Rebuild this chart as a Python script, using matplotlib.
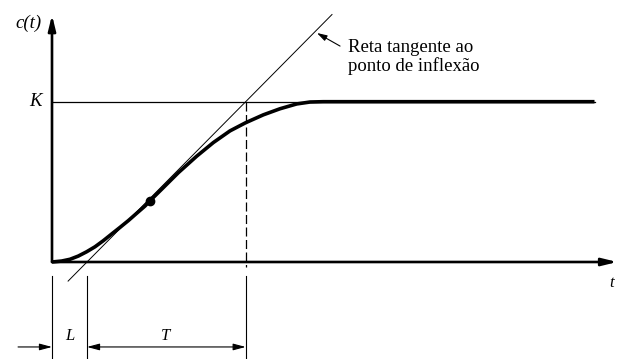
import matplotlib
matplotlib.use("Agg")
import matplotlib.pyplot as plt

plt.rcParams['lines.scale_dashes'] = False

# ---- data ----
K = 1.0          # final value
L = 1.0          # delay
T = 4.534        # time constant
t_end = 15.5     # end of the drawn response
curve_t = [0.0, 0.277, 0.514, 0.751, 0.991, 1.229, 1.466, 1.706, 1.943, 2.18,
           2.42, 2.657, 2.8, 3.134, 3.609, 4.134, 4.609, 5.086, 5.534, 6.037,
           6.514, 6.991, 7.371, 7.751, 15.5]
curve_c = [0.0, 0.006, 0.017, 0.037, 0.064, 0.095, 0.133, 0.175, 0.216, 0.258,
           0.304, 0.349, 0.382, 0.454, 0.557, 0.660, 0.745, 0.818, 0.869, 0.918,
           0.956, 0.986, 0.998, 1.0, 1.0]
inflection_t = 2.8
inflection_c = 0.382
tangent_range = [0.46, 8.0]
annotation_text = "Reta tangente ao\nponto de inflexão"

fig = plt.figure(figsize=(6.19, 3.59), dpi=100)
ax = fig.add_axes([0, 0, 1, 1])
ax.set_xlim(-52 / 35, 567 / 35)
ax.set_ylim(-97 / 160.3, 262 / 160.3)
ax.axis('off')

serif = ['Liberation Serif', 'DejaVu Serif']

# axes with arrows
ax.annotate('', xy=(0, 1.541), xytext=(0, 0),
            arrowprops=dict(arrowstyle='-|>,head_length=0.9,head_width=0.22',
                            lw=1.9, color='black', shrinkA=0, shrinkB=0))
ax.annotate('', xy=(16.15, 0), xytext=(0, 0),
            arrowprops=dict(arrowstyle='-|>,head_length=0.9,head_width=0.22',
                            lw=1.9, color='black', shrinkA=0, shrinkB=0))

# K level line
ax.plot([0, t_end], [K, K], color='black', lw=0.9)

# dashed vertical at L+T
ax.plot([L + T, L + T], [K, -0.03], color='black', lw=0.9, dashes=(6.5, 2.5))

# tangent line
tt = tangent_range
ax.plot(tt, [(v - L) * K / T for v in tt], color='black', lw=0.7)

# response curve
ax.plot(curve_t, curve_c, color='black', lw=2.6, solid_capstyle='butt',
        solid_joinstyle='round')
ax.plot([inflection_t], [inflection_c], 'o', color='black', ms=6)

# lower dimension lines
y_low, y_high = -0.087, -0.599
for xv in [0, L, L + T]:
    ax.plot([xv, xv], [y_high, y_low], color='black', lw=0.8)
y_arr = -0.530
ax.annotate('', xy=(0, y_arr), xytext=(-0.97, y_arr),
            arrowprops=dict(arrowstyle='-|>,head_length=0.75,head_width=0.2',
                            lw=0.8, color='black', shrinkA=0, shrinkB=0))
ax.annotate('', xy=(L, y_arr), xytext=(L + T, y_arr),
            arrowprops=dict(arrowstyle='<|-|>,head_length=0.75,head_width=0.2',
                            lw=0.8, color='black', shrinkA=0, shrinkB=0))

# labels
ax.text(-0.67, 1.491, 'c(t)', family=serif, style='italic', fontsize=13.5,
        ha='center', va='center')
ax.text(-0.47, K, 'K', family=serif, style='italic', fontsize=13.5,
        ha='center', va='center')
ax.text(16.0, -0.131, 't', family=serif, style='italic', fontsize=12,
        ha='center', va='center')
ax.text(0.51, -0.462, 'L', family=serif, style='italic', fontsize=12,
        ha='center', va='center')
ax.text(3.23, -0.462, 'T', family=serif, style='italic', fontsize=12,
        ha='center', va='center')

ax.annotate('', xy=(7.57, 1.4286), xytext=(8.23, 1.347),
            arrowprops=dict(arrowstyle='-|>,head_length=0.6,head_width=0.18',
                            lw=0.8, color='black', shrinkA=0, shrinkB=0))
ax.text(8.46, 1.279, annotation_text, family=serif, fontsize=13.5,
        ha='left', va='center', linespacing=1.1)

fig.savefig('out.png', dpi=100)
